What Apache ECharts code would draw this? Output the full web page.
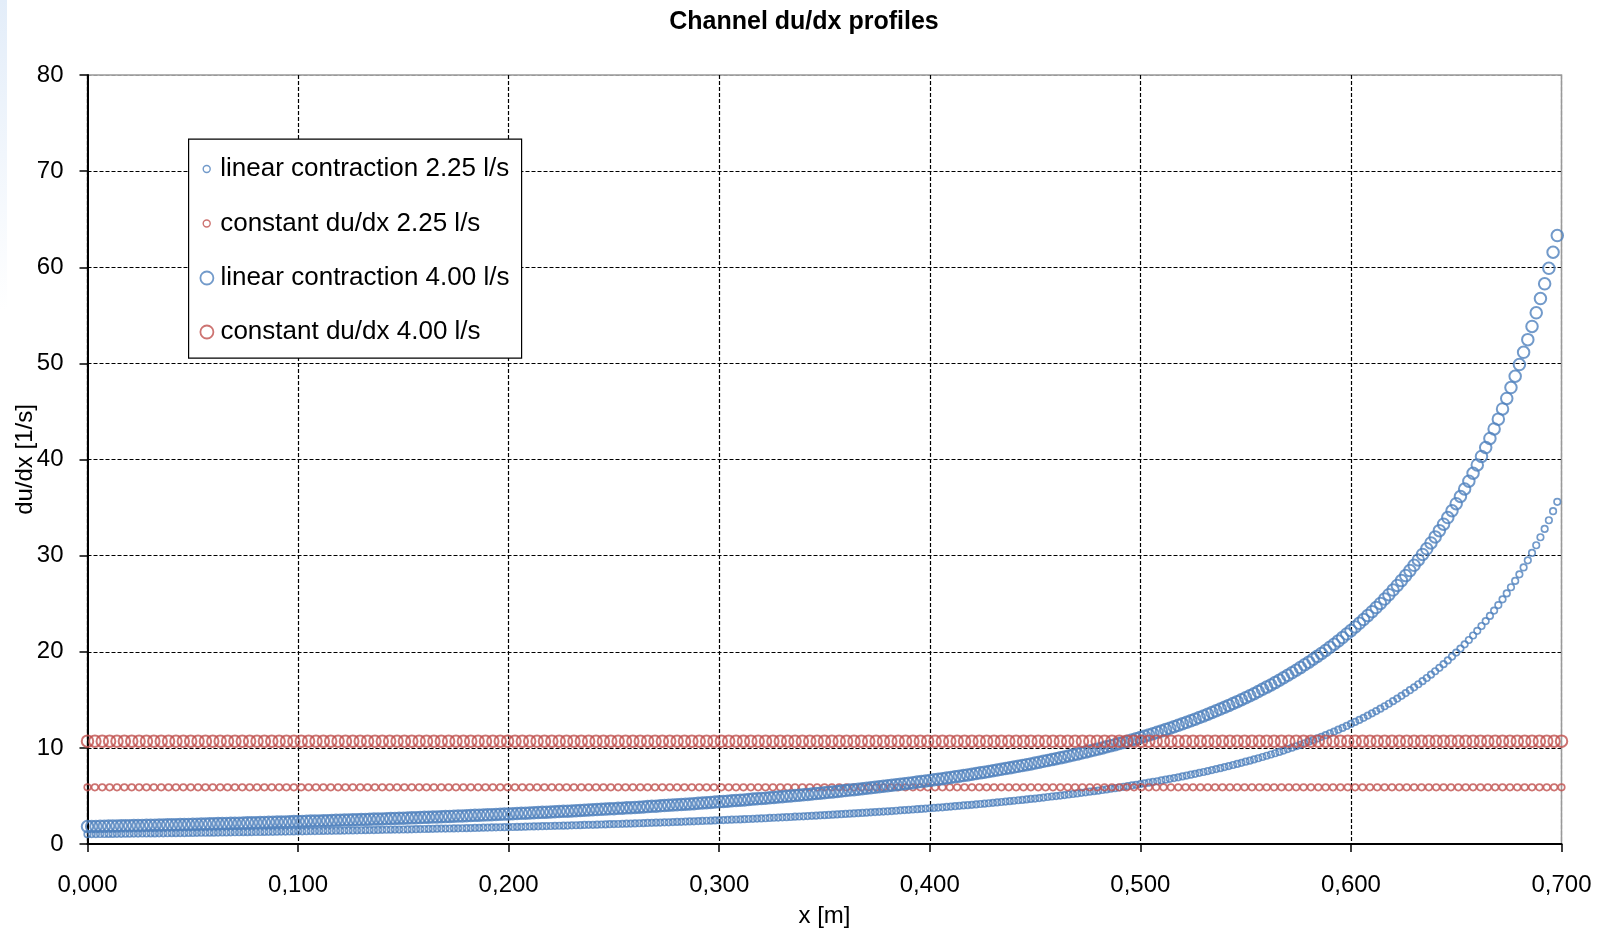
<!DOCTYPE html>
<html><head><meta charset="utf-8">
<script src="https://cdn.jsdelivr.net/npm/echarts@6/dist/echarts.min.js"></script>
<style>html,body{margin:0;padding:0;background:#fff}#c{width:1608px;height:931px}</style>
</head><body><div id="c"></div><script>
// x positions [m] of the linear-contraction profiles
const xLinear = [
0,.002,.004,.006,.008,.01,.012,.014,.016,.018,.02,.022,.024,.026,.028,.03,.032,.034,.036,.038,.04,.042,.044,.046,.048,
.05,.052,.054,.056,.058,.06,.062,.064,.066,.068,.07,.072,.074,.076,.078,.08,.082,.084,.086,.088,.09,.092,.094,.096,.098,
.1,.102,.104,.106,.108,.11,.112,.114,.116,.118,.12,.122,.124,.126,.128,.13,.132,.134,.136,.138,.14,.142,.144,.146,.148,
.15,.152,.154,.156,.158,.16,.162,.164,.166,.168,.17,.172,.174,.176,.178,.18,.182,.184,.186,.188,.19,.192,.194,.196,.198,
.2,.202,.204,.206,.208,.21,.212,.214,.216,.218,.22,.222,.224,.226,.228,.23,.232,.234,.236,.238,.24,.242,.244,.246,.248,
.25,.252,.254,.256,.258,.26,.262,.264,.266,.268,.27,.272,.274,.276,.278,.28,.282,.284,.286,.288,.29,.292,.294,.296,.298,
.3,.302,.304,.306,.308,.31,.312,.314,.316,.318,.32,.322,.324,.326,.328,.33,.332,.334,.336,.338,.34,.342,.344,.346,.348,
.35,.352,.354,.356,.358,.36,.362,.364,.366,.368,.37,.372,.374,.376,.378,.38,.382,.384,.386,.388,.39,.392,.394,.396,.398,
.4,.402,.404,.406,.408,.41,.412,.414,.416,.418,.42,.422,.424,.426,.428,.43,.432,.434,.436,.438,.44,.442,.444,.446,.448,
.45,.452,.454,.456,.458,.46,.462,.464,.466,.468,.47,.472,.474,.476,.478,.48,.482,.484,.486,.488,.49,.492,.494,.496,.498,
.5,.502,.504,.506,.508,.51,.512,.514,.516,.518,.52,.522,.524,.526,.528,.53,.532,.534,.536,.538,.54,.542,.544,.546,.548,
.55,.552,.554,.556,.558,.56,.562,.564,.566,.568,.57,.572,.574,.576,.578,.58,.582,.584,.586,.588,.59,.592,.594,.596,.598,
.6,.602,.604,.606,.608,.61,.612,.614,.616,.618,.62,.622,.624,.626,.628,.63,.632,.634,.636,.638,.64,.642,.644,.646,.648,
.65,.652,.654,.656,.658,.66,.662,.664,.666,.668,.67,.672,.674,.676,.678,.68,.682,.684,.686,.688,.69,.692,.694,.696,.698
];
// du/dx [1/s], linear contraction 2.25 l/s
const linear225 = [
1.02,1.03,1.03,1.04,1.04,1.05,1.05,1.06,1.06,1.07,1.07,1.08,1.08,1.09,1.09,1.10,1.10,1.11,1.11,1.12,1.13,1.13,1.14,1.14,1.15,
1.15,1.16,1.17,1.17,1.18,1.18,1.19,1.20,1.20,1.21,1.22,1.22,1.23,1.23,1.24,1.25,1.25,1.26,1.27,1.27,1.28,1.29,1.29,1.30,1.31,
1.32,1.32,1.33,1.34,1.34,1.35,1.36,1.37,1.37,1.38,1.39,1.40,1.41,1.41,1.42,1.43,1.44,1.45,1.45,1.46,1.47,1.48,1.49,1.50,1.50,
1.51,1.52,1.53,1.54,1.55,1.56,1.57,1.58,1.59,1.60,1.60,1.61,1.62,1.63,1.64,1.65,1.66,1.67,1.68,1.70,1.71,1.72,1.73,1.74,1.75,
1.76,1.77,1.78,1.79,1.80,1.82,1.83,1.84,1.85,1.86,1.87,1.89,1.90,1.91,1.92,1.94,1.95,1.96,1.98,1.99,2.00,2.01,2.03,2.04,2.06,
2.07,2.08,2.10,2.11,2.13,2.14,2.16,2.17,2.19,2.20,2.22,2.23,2.25,2.26,2.28,2.30,2.31,2.33,2.35,2.36,2.38,2.40,2.42,2.43,2.45,
2.47,2.49,2.51,2.53,2.55,2.56,2.58,2.60,2.62,2.64,2.66,2.68,2.71,2.73,2.75,2.77,2.79,2.81,2.84,2.86,2.88,2.90,2.93,2.95,2.98,
3.00,3.02,3.05,3.08,3.10,3.13,3.15,3.18,3.21,3.23,3.26,3.29,3.32,3.35,3.37,3.40,3.43,3.46,3.50,3.53,3.56,3.59,3.62,3.65,3.69,
3.72,3.75,3.79,3.82,3.86,3.89,3.93,3.97,4.01,4.04,4.08,4.12,4.16,4.20,4.24,4.28,4.33,4.37,4.41,4.46,4.50,4.55,4.59,4.64,4.69,
4.73,4.78,4.83,4.89,4.94,4.99,5.04,5.09,5.15,5.20,5.26,5.32,5.38,5.44,5.50,5.55,5.62,5.68,5.75,5.81,5.88,5.95,6.02,6.09,6.16,
6.23,6.30,6.38,6.46,6.53,6.61,6.69,6.78,6.86,6.94,7.03,7.12,7.21,7.30,7.40,7.49,7.59,7.69,7.79,7.89,8.00,8.11,8.22,8.33,8.44,
8.56,8.67,8.80,8.92,9.05,9.18,9.31,9.44,9.58,9.72,9.87,10.02,10.17,10.32,10.48,10.64,10.81,10.98,11.15,11.33,11.51,11.69,11.89,12.08,12.28,
12.49,12.70,12.91,13.13,13.36,13.59,13.83,14.08,14.33,14.59,14.86,15.13,15.41,15.70,16.00,16.30,16.62,16.94,17.27,17.62,17.97,18.33,18.71,19.10,19.50,
19.91,20.33,20.77,21.22,21.69,22.18,22.68,23.19,23.73,24.28,24.86,25.45,26.07,26.71,27.37,28.05,28.77,29.51,30.28,31.08,31.91,32.78,33.68,34.62,35.60
];
// du/dx [1/s], linear contraction 4.00 l/s
const linear400 = [
1.82,1.82,1.83,1.84,1.85,1.86,1.87,1.88,1.89,1.90,1.91,1.92,1.92,1.93,1.94,1.95,1.96,1.97,1.98,1.99,2.00,2.01,2.02,2.03,2.04,
2.05,2.06,2.07,2.08,2.10,2.11,2.12,2.13,2.14,2.15,2.16,2.17,2.18,2.20,2.21,2.22,2.23,2.24,2.25,2.27,2.28,2.29,2.30,2.31,2.33,
2.34,2.35,2.37,2.38,2.39,2.40,2.42,2.43,2.44,2.46,2.47,2.49,2.50,2.51,2.53,2.54,2.56,2.57,2.59,2.60,2.61,2.63,2.65,2.66,2.68,
2.69,2.71,2.72,2.74,2.75,2.77,2.79,2.80,2.82,2.84,2.85,2.87,2.89,2.91,2.92,2.94,2.96,2.98,3.00,3.01,3.03,3.05,3.07,3.09,3.11,
3.13,3.15,3.17,3.19,3.21,3.23,3.25,3.27,3.29,3.31,3.33,3.35,3.38,3.40,3.42,3.44,3.47,3.49,3.51,3.54,3.56,3.58,3.61,3.63,3.66,
3.68,3.71,3.73,3.76,3.78,3.81,3.83,3.86,3.89,3.92,3.94,3.97,4.00,4.03,4.06,4.08,4.11,4.14,4.17,4.20,4.23,4.27,4.30,4.33,4.36,
4.39,4.43,4.46,4.49,4.53,4.56,4.59,4.63,4.67,4.70,4.74,4.77,4.81,4.85,4.89,4.92,4.96,5.00,5.04,5.08,5.12,5.16,5.21,5.25,5.29,
5.33,5.38,5.42,5.47,5.51,5.56,5.61,5.65,5.70,5.75,5.80,5.85,5.90,5.95,6.00,6.05,6.11,6.16,6.21,6.27,6.32,6.38,6.44,6.50,6.56,
6.61,6.68,6.74,6.80,6.86,6.92,6.99,7.06,7.12,7.19,7.26,7.33,7.40,7.47,7.54,7.62,7.69,7.77,7.85,7.92,8.00,8.08,8.17,8.25,8.33,
8.42,8.51,8.60,8.69,8.78,8.87,8.96,9.06,9.16,9.25,9.35,9.46,9.56,9.67,9.77,9.88,9.99,10.11,10.22,10.33,10.45,10.57,10.70,10.82,10.95,
11.07,11.21,11.34,11.48,11.62,11.75,11.90,12.05,12.20,12.35,12.50,12.66,12.82,12.99,13.15,13.32,13.50,13.68,13.86,14.04,14.22,14.42,14.62,14.81,15.01,
15.21,15.43,15.64,15.86,16.09,16.32,16.55,16.79,17.04,17.29,17.55,17.81,18.08,18.35,18.64,18.92,19.22,19.52,19.82,20.14,20.46,20.79,21.13,21.48,21.84,
22.20,22.58,22.96,23.35,23.76,24.17,24.60,25.03,25.48,25.94,26.42,26.90,27.40,27.92,28.44,28.99,29.55,30.12,30.71,31.32,31.95,32.60,33.27,33.96,34.67,
35.40,36.15,36.93,37.74,38.57,39.43,40.32,41.24,42.19,43.18,44.20,45.26,46.35,47.48,48.66,49.88,51.15,52.47,53.84,55.26,56.74,58.28,59.89,61.56,63.30
];
// x positions [m] of the constant du/dx profiles
const xConstant = [
0,.0035,.007,.0105,.014,.0175,.021,.0245,.028,.0315,.035,.0385,.042,.0455,.049,.0525,.056,.0595,.063,.0665,
.07,.0735,.077,.0805,.084,.0875,.091,.0945,.098,.1015,.105,.1085,.112,.1155,.119,.1225,.126,.1295,.133,.1365,
.14,.1435,.147,.1505,.154,.1575,.161,.1645,.168,.1715,.175,.1785,.182,.1855,.189,.1925,.196,.1995,.203,.2065,
.21,.2135,.217,.2205,.224,.2275,.231,.2345,.238,.2415,.245,.2485,.252,.2555,.259,.2625,.266,.2695,.273,.2765,
.28,.2835,.287,.2905,.294,.2975,.301,.3045,.308,.3115,.315,.3185,.322,.3255,.329,.3325,.336,.3395,.343,.3465,
.35,.3535,.357,.3605,.364,.3675,.371,.3745,.378,.3815,.385,.3885,.392,.3955,.399,.4025,.406,.4095,.413,.4165,
.42,.4235,.427,.4305,.434,.4375,.441,.4445,.448,.4515,.455,.4585,.462,.4655,.469,.4725,.476,.4795,.483,.4865,
.49,.4935,.497,.5005,.504,.5075,.511,.5145,.518,.5215,.525,.5285,.532,.5355,.539,.5425,.546,.5495,.553,.5565,
.56,.5635,.567,.5705,.574,.5775,.581,.5845,.588,.5915,.595,.5985,.602,.6055,.609,.6125,.616,.6195,.623,.6265,
.63,.6335,.637,.6405,.644,.6475,.651,.6545,.658,.6615,.665,.6685,.672,.6755,.679,.6825,.686,.6895,.693,.6965,
.7
];
// du/dx [1/s], constant du/dx 2.25 l/s
const constant225 = [
5.9,5.9,5.9,5.9,5.9,5.9,5.9,5.9,5.9,5.9,5.9,5.9,5.9,5.9,5.9,5.9,5.9,5.9,5.9,5.9,
5.9,5.9,5.9,5.9,5.9,5.9,5.9,5.9,5.9,5.9,5.9,5.9,5.9,5.9,5.9,5.9,5.9,5.9,5.9,5.9,
5.9,5.9,5.9,5.9,5.9,5.9,5.9,5.9,5.9,5.9,5.9,5.9,5.9,5.9,5.9,5.9,5.9,5.9,5.9,5.9,
5.9,5.9,5.9,5.9,5.9,5.9,5.9,5.9,5.9,5.9,5.9,5.9,5.9,5.9,5.9,5.9,5.9,5.9,5.9,5.9,
5.9,5.9,5.9,5.9,5.9,5.9,5.9,5.9,5.9,5.9,5.9,5.9,5.9,5.9,5.9,5.9,5.9,5.9,5.9,5.9,
5.9,5.9,5.9,5.9,5.9,5.9,5.9,5.9,5.9,5.9,5.9,5.9,5.9,5.9,5.9,5.9,5.9,5.9,5.9,5.9,
5.9,5.9,5.9,5.9,5.9,5.9,5.9,5.9,5.9,5.9,5.9,5.9,5.9,5.9,5.9,5.9,5.9,5.9,5.9,5.9,
5.9,5.9,5.9,5.9,5.9,5.9,5.9,5.9,5.9,5.9,5.9,5.9,5.9,5.9,5.9,5.9,5.9,5.9,5.9,5.9,
5.9,5.9,5.9,5.9,5.9,5.9,5.9,5.9,5.9,5.9,5.9,5.9,5.9,5.9,5.9,5.9,5.9,5.9,5.9,5.9,
5.9,5.9,5.9,5.9,5.9,5.9,5.9,5.9,5.9,5.9,5.9,5.9,5.9,5.9,5.9,5.9,5.9,5.9,5.9,5.9,
5.9
];
// du/dx [1/s], constant du/dx 4.00 l/s
const constant400 = [
10.7,10.7,10.7,10.7,10.7,10.7,10.7,10.7,10.7,10.7,10.7,10.7,10.7,10.7,10.7,10.7,10.7,10.7,10.7,10.7,
10.7,10.7,10.7,10.7,10.7,10.7,10.7,10.7,10.7,10.7,10.7,10.7,10.7,10.7,10.7,10.7,10.7,10.7,10.7,10.7,
10.7,10.7,10.7,10.7,10.7,10.7,10.7,10.7,10.7,10.7,10.7,10.7,10.7,10.7,10.7,10.7,10.7,10.7,10.7,10.7,
10.7,10.7,10.7,10.7,10.7,10.7,10.7,10.7,10.7,10.7,10.7,10.7,10.7,10.7,10.7,10.7,10.7,10.7,10.7,10.7,
10.7,10.7,10.7,10.7,10.7,10.7,10.7,10.7,10.7,10.7,10.7,10.7,10.7,10.7,10.7,10.7,10.7,10.7,10.7,10.7,
10.7,10.7,10.7,10.7,10.7,10.7,10.7,10.7,10.7,10.7,10.7,10.7,10.7,10.7,10.7,10.7,10.7,10.7,10.7,10.7,
10.7,10.7,10.7,10.7,10.7,10.7,10.7,10.7,10.7,10.7,10.7,10.7,10.7,10.7,10.7,10.7,10.7,10.7,10.7,10.7,
10.7,10.7,10.7,10.7,10.7,10.7,10.7,10.7,10.7,10.7,10.7,10.7,10.7,10.7,10.7,10.7,10.7,10.7,10.7,10.7,
10.7,10.7,10.7,10.7,10.7,10.7,10.7,10.7,10.7,10.7,10.7,10.7,10.7,10.7,10.7,10.7,10.7,10.7,10.7,10.7,
10.7,10.7,10.7,10.7,10.7,10.7,10.7,10.7,10.7,10.7,10.7,10.7,10.7,10.7,10.7,10.7,10.7,10.7,10.7,10.7,
10.7
];
const seriesNames = ['linear contraction 2.25 l/s','constant du/dx 2.25 l/s','linear contraction 4.00 l/s','constant du/dx 4.00 l/s'];
const xTicks = [0, 0.1, 0.2, 0.3, 0.4, 0.5, 0.6, 0.7];
const yTicks = [0, 10, 20, 30, 40, 50, 60, 70, 80];

const BLUE = '#4F81BD', RED = '#C0504D';
const FONT = 'Liberation Sans, Arial, sans-serif';
const zip = (xs, ys) => xs.map((x, i) => [x, ys[i]]);

const seriesDefs = [
  {name: seriesNames[0], xs: xLinear, ys: linear225, color: BLUE, size: 6.5, bw: 1.7, small: true},
  {name: seriesNames[1], xs: xConstant, ys: constant225, color: RED, size: 6.5, bw: 1.7, small: true},
  {name: seriesNames[2], xs: xLinear, ys: linear400, color: BLUE, size: 11.5, bw: 2, small: false},
  {name: seriesNames[3], xs: xConstant, ys: constant400, color: RED, size: 11.5, bw: 2, small: false}
];

const legendCenters = [169, 223.5, 278, 332];
const legends = seriesDefs.map((s, i) => {
  const icon = s.small ? 7 : 13;
  return {
    data: [s.name], orient: 'horizontal', left: 206 - icon / 2, top: legendCenters[i] - 13,
    padding: 0, itemWidth: icon, itemHeight: icon, selectedMode: false, z: 10,
    symbolKeepAspect: true,
    itemStyle: {color: 'rgba(0,0,0,0)', borderColor: s.color, borderWidth: s.small ? 1.4 : 1.8},
    textStyle: {fontFamily: FONT, fontSize: 26, color: '#000', lineHeight: 26,
      padding: [0, 0, 0, 219.5 - (206 + icon / 2) - 5]}
  };
});

const xColors = xTicks.map((v, i) => i === xTicks.length - 1 ? '#999' : '#000');
const yColors = yTicks.map((v, i) => i === yTicks.length - 1 ? '#999' : '#000');

const chart = echarts.init(document.getElementById('c'), null, {renderer: 'canvas'});
chart.setOption({
  animation: false,
  backgroundColor: '#fff',
  title: {text: 'Channel du/dx profiles', left: 'center', top: 5,
    textStyle: {fontFamily: FONT, fontSize: 25, fontWeight: 'bold', color: '#000'}},
  graphic: [
    {type: 'rect', left: 0, top: 0, z: 1, silent: true, shape: {width: 7, height: 310},
      style: {fill: new echarts.graphic.LinearGradient(0, 0, 0, 1, [{offset: 0, color: '#e3edf9'}, {offset: 1, color: '#ffffff'}])}},
    {type: 'rect', left: 188, top: 138.5, z: 5, silent: true, shape: {width: 333, height: 219},
      style: {fill: '#fff', stroke: '#000', lineWidth: 1.2}}
  ],
  legend: legends,
  grid: {left: 87.5, right: 46.5, top: 75, bottom: 87, outerBoundsMode: 'none', containLabel: false,
    show: true, borderColor: '#999', borderWidth: 1.5, backgroundColor: 'transparent'},
  xAxis: {type: 'value', min: 0, max: 0.7, interval: 0.1,
    name: 'x [m]', nameLocation: 'middle', nameGap: 60, nameMoveOverlap: false,
    nameTextStyle: {fontFamily: FONT, fontSize: 24, color: '#000'},
    axisLine: {show: true, onZero: false, lineStyle: {color: '#000', width: 2}},
    axisTick: {show: true, inside: false, length: 8, lineStyle: {color: '#000', width: 1.5}},
    axisLabel: {margin: 29, fontFamily: FONT, fontSize: 24, color: '#000',
      formatter: v => v.toFixed(3).replace('.', ',')},
    splitLine: {show: true, lineStyle: {color: xColors, type: [4, 2], width: 1.2}}
  },
  yAxis: {type: 'value', min: 0, max: 80, interval: 10,
    name: 'du/dx [1/s]', nameLocation: 'middle', nameGap: 50, nameRotate: 90, nameMoveOverlap: false,
    nameTextStyle: {fontFamily: FONT, fontSize: 24, color: '#000'},
    axisLine: {show: true, onZero: false, lineStyle: {color: '#000', width: 2}},
    axisTick: {show: true, inside: false, length: 8, lineStyle: {color: '#000', width: 1.5}},
    axisLabel: {margin: 24, fontFamily: FONT, fontSize: 24, color: '#000'},
    splitLine: {show: true, lineStyle: {color: yColors, type: [4, 2], width: 1.2}}
  },
  series: seriesDefs.map(s => ({
    name: s.name, type: 'scatter', symbol: 'circle', symbolSize: s.size,
    data: zip(s.xs, s.ys), silent: true, emphasis: {disabled: true}, z: 2,
    itemStyle: {color: 'rgba(0,0,0,0)', borderColor: s.color, borderWidth: s.bw}
  }))
});
</script></body></html>
